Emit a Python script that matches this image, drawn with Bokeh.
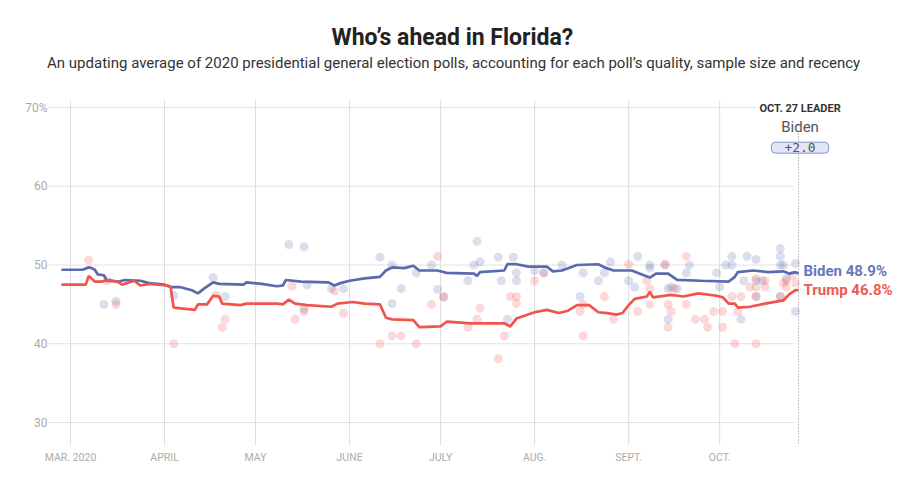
from bokeh.plotting import figure
from bokeh.models import FixedTicker, Label, Range1d
from bokeh.embed import file_html
from bokeh.resources import INLINE

# x values are days since 2020-03-01
month_ticks = [0, 31, 61, 92, 122, 153, 184, 214]
month_labels = ["MAR. 2020", "APRIL", "MAY", "JUNE", "JULY", "AUG.", "SEPT.", "OCT."]
y_ticks = [30, 40, 50, 60, 70]
y_labels = ["30", "40", "50", "60", "70%"]

biden_day = [-3, 4, 6, 7, 8, 9, 11, 12, 16, 18, 23, 26, 31, 33, 36, 40, 42, 44, 47, 49,
             57, 58, 63, 68, 70, 71, 76, 85, 87, 89, 92, 97, 102, 104, 106, 110, 113, 115,
             121, 124, 133, 134, 135, 143, 144, 147, 151, 157, 159, 162, 167, 174, 176, 179,
             185, 189, 191, 193, 197, 200, 208, 217, 219, 220, 225, 230, 235, 237, 239, 240]
biden_avg = [49.4, 49.4, 49.7, 49.6, 49.4, 48.8, 48.7, 48.0, 47.9, 48.1, 48.0, 47.7, 47.5,
             47.2, 47.2, 46.8, 46.4, 47.0, 47.8, 47.6, 47.5, 47.8, 47.6, 47.3, 47.4, 48.1,
             47.9, 47.8, 47.4, 47.7, 48.0, 48.3, 48.5, 49.3, 49.7, 49.6, 49.9, 49.3, 49.3,
             49.0, 48.9, 48.6, 49.1, 49.3, 50.1, 50.1, 49.8, 49.8, 49.2, 49.3, 50.0, 50.1,
             49.7, 49.3, 49.3, 48.7, 48.4, 48.9, 48.9, 48.1, 48.0, 47.9, 48.5, 49.1, 49.3,
             49.1, 49.2, 48.9, 49.1, 48.9]

trump_day = [-3, 5, 6, 8, 10, 13, 16, 17, 21, 23, 26, 32, 33, 34, 41, 42, 45, 47, 49, 50,
             56, 58, 68, 70, 72, 74, 78, 86, 88, 93, 97, 102, 104, 106, 113, 115, 122, 124,
             132, 143, 145, 147, 153, 157, 161, 164, 167, 171, 174, 177, 180, 182, 184, 186,
             190, 191, 192, 198, 202, 207, 213, 215, 217, 219, 220, 224, 229, 235, 237, 239, 240]
trump_avg = [47.5, 47.5, 48.6, 47.9, 47.9, 48.1, 47.8, 47.5, 48.0, 47.4, 47.6, 47.4, 47.2,
             44.6, 44.3, 45.0, 45.0, 46.1, 46.0, 45.1, 44.9, 45.1, 45.1, 45.0, 45.6, 45.1,
             44.9, 44.7, 45.1, 45.3, 45.1, 45.0, 43.3, 43.1, 43.0, 42.1, 42.2, 42.8, 42.6,
             42.6, 42.2, 43.2, 44.0, 44.3, 43.9, 44.2, 44.9, 44.9, 44.0, 43.9, 43.7, 43.9,
             44.9, 45.7, 46.0, 46.6, 45.9, 46.2, 46.0, 46.4, 46.1, 45.9, 45.1, 45.1, 44.6,
             44.7, 45.1, 45.5, 46.3, 46.8, 46.8]

biden_poll_day = [11, 15, 34, 47, 51, 72, 77, 77, 78, 86, 90, 102, 106, 106, 109, 114, 119,
                  121, 123, 131, 133, 134, 135, 141, 142, 144, 146, 147, 147, 153, 156, 162,
                  168, 169, 174, 176, 178, 184, 186, 187, 191, 191, 196, 197, 197, 198, 200,
                  203, 204, 213, 214, 216, 218, 218, 221, 222, 223, 226, 226, 226, 228, 234,
                  234, 234, 234, 235, 236, 239, 239]
biden_poll = [45.0, 45.4, 46.1, 48.4, 46.0, 52.6, 52.3, 44.4, 47.5, 47.0, 47.0, 51.0, 50.0,
              45.1, 47.0, 49.0, 50.0, 46.9, 45.9, 48.0, 50.0, 53.0, 50.4, 51.0, 48.0, 43.1,
              51.0, 49.0, 48.0, 49.3, 49.0, 50.0, 46.0, 49.0, 48.0, 49.0, 50.4, 48.0, 47.2,
              51.1, 50.0, 49.6, 50.0, 47.0, 43.1, 47.2, 47.0, 49.0, 50.0, 49.0, 47.2, 50.0,
              50.0, 51.1, 43.1, 48.0, 51.1, 50.7, 48.0, 46.0, 48.0, 52.1, 51.1, 50.0, 46.0,
              50.0, 48.3, 50.2, 44.1]

trump_poll_day = [6, 12, 15, 34, 48, 50, 51, 73, 74, 77, 87, 90, 102, 106, 109, 114, 119,
                  121, 123, 131, 134, 135, 141, 143, 145, 147, 147, 153, 156, 168, 169, 169,
                  176, 179, 184, 187, 190, 191, 191, 196, 197, 197, 198, 199, 203, 203, 206,
                  209, 210, 212, 215, 215, 218, 219, 220, 221, 224, 226, 226, 226, 229, 229,
                  234, 235, 236, 236, 238, 239, 226]
trump_poll = [50.6, 48.0, 45.0, 40.0, 46.2, 42.1, 43.1, 47.3, 43.1, 44.1, 46.7, 43.9, 40.0,
              41.0, 41.0, 40.0, 45.0, 51.1, 46.0, 42.1, 43.1, 44.5, 38.1, 41.0, 46.0, 46.0,
              45.1, 48.0, 49.0, 44.1, 41.0, 45.0, 46.0, 43.1, 50.1, 44.1, 48.0, 45.0, 47.0,
              50.1, 42.1, 45.0, 44.1, 47.0, 45.0, 51.1, 43.1, 43.1, 42.1, 44.1, 42.1, 44.1,
              46.0, 40.0, 44.1, 46.0, 47.2, 40.0, 48.3, 47.2, 47.2, 48.0, 46.0, 47.7, 47.2,
              48.0, 48.7, 47.7, 46.0]

BLUE = "#5a6aae"
RED = "#f2534c"
BLUE_TXT = "#6677bb"
RED_TXT = "#f05a52"
FONT = "Roboto"

# plotting-area extents (data units)
X0, X1 = -9.9, 272.3
Y0, Y1 = 27.08, 83.59
GRID_TOP = 70.89
GRID_LEFT = -7.25
GRID_RIGHT = 238.4

p = figure(width=896, height=479, output_backend="svg", toolbar_location=None,
           x_range=Range1d(X0, X1), y_range=Range1d(Y0, Y1),
           min_border_left=40, min_border_right=0, min_border_top=0,
           min_border_bottom=34)
p.outline_line_color = None
p.background_fill_color = "white"
p.border_fill_color = "white"
p.xgrid.visible = False
p.ygrid.visible = False

p.xaxis.ticker = FixedTicker(ticks=month_ticks)
p.xaxis.major_label_overrides = {t: l for t, l in zip(month_ticks, month_labels)}
p.yaxis.ticker = FixedTicker(ticks=y_ticks)
p.yaxis.major_label_overrides = {t: l for t, l in zip(y_ticks, y_labels)}
for ax in (p.xaxis, p.yaxis):
    ax.axis_line_color = None
    ax.major_tick_line_color = None
    ax.minor_tick_line_color = None
    ax.major_tick_out = 0
    ax.major_tick_in = 0
    ax.minor_tick_out = 0
    ax.minor_tick_in = 0
    ax.major_label_text_font = FONT
    ax.major_label_text_color = "#ababab"
p.xaxis.major_label_text_font_size = "10.5px"
p.yaxis.major_label_text_font_size = "12px"
p.xaxis.major_label_standoff = 5
p.yaxis.major_label_standoff = -7

# grid lines (drawn through the data scales)
p.segment(x0=month_ticks, y0=[Y0] * len(month_ticks), x1=month_ticks,
          y1=[GRID_TOP] * len(month_ticks), line_color="#dcdcdc", line_width=1)
p.segment(x0=[GRID_LEFT] * len(y_ticks), y0=y_ticks, x1=[GRID_RIGHT] * len(y_ticks),
          y1=y_ticks, line_color="#e2e2e2", line_width=1)

p.scatter(biden_poll_day, biden_poll, size=9, fill_color=BLUE, fill_alpha=0.22,
          line_color=None)
p.scatter(trump_poll_day, trump_poll, size=9, fill_color=RED, fill_alpha=0.22,
          line_color=None)

end_day = biden_day[-1]
p.segment(x0=[end_day], y0=[66.7], x1=[end_day], y1=[Y0], line_color="#888888",
          line_width=1, line_dash="1 2")

p.line(biden_day, biden_avg, line_color=BLUE, line_width=2.7)
p.line(trump_day, trump_avg, line_color=RED, line_width=2.7)

p.add_layout(Label(x=125.9, y=78.9, text="Who’s ahead in Florida?", text_align="center",
                   text_baseline="middle", text_font=FONT, text_font_style="bold",
                   text_font_size="23px", text_color="#222222"))
p.add_layout(Label(x=126.3, y=75.6,
                   text="An updating average of 2020 presidential general election polls, "
                        "accounting for each poll’s quality, sample size and recency",
                   text_align="center", text_baseline="middle", text_font=FONT,
                   text_font_size="15px", text_color="#333333"))

p.add_layout(Label(x=end_day + 0.5, y=69.9, text="OCT. 27 LEADER", text_align="center",
                   text_baseline="middle", text_font=FONT, text_font_style="bold",
                   text_font_size="11px", text_color="#333333",
                   background_fill_color="white", padding=(3, 0)))
p.add_layout(Label(x=end_day + 0.5, y=67.5, text="Biden", text_align="center",
                   text_baseline="middle", text_font=FONT, text_font_size="15px",
                   text_color="#555555"))
p.add_layout(Label(x=end_day + 0.5, y=64.9, text="+2.0", text_align="center",
                   text_baseline="middle", text_font="DejaVu Sans Mono",
                   text_font_size="13px", text_color="#555555",
                   background_fill_color="#e3e6f6", border_line_color="#8190cc",
                   border_line_width=1, padding=(13, 1), border_radius=4))

p.add_layout(Label(x=end_day, y=biden_avg[-1], x_offset=5, y_offset=3,
                   text=f"Biden {biden_avg[-1]:.1f}%", text_align="left",
                   text_baseline="middle", text_font=FONT, text_font_style="bold",
                   text_font_size="15px", text_color=BLUE_TXT))
p.add_layout(Label(x=end_day, y=trump_avg[-1], x_offset=5, y_offset=0,
                   text=f"Trump {trump_avg[-1]:.1f}%", text_align="left",
                   text_baseline="middle", text_font=FONT, text_font_style="bold",
                   text_font_size="15px", text_color=RED_TXT))

open("out.html", "w").write(file_html(p, INLINE))
